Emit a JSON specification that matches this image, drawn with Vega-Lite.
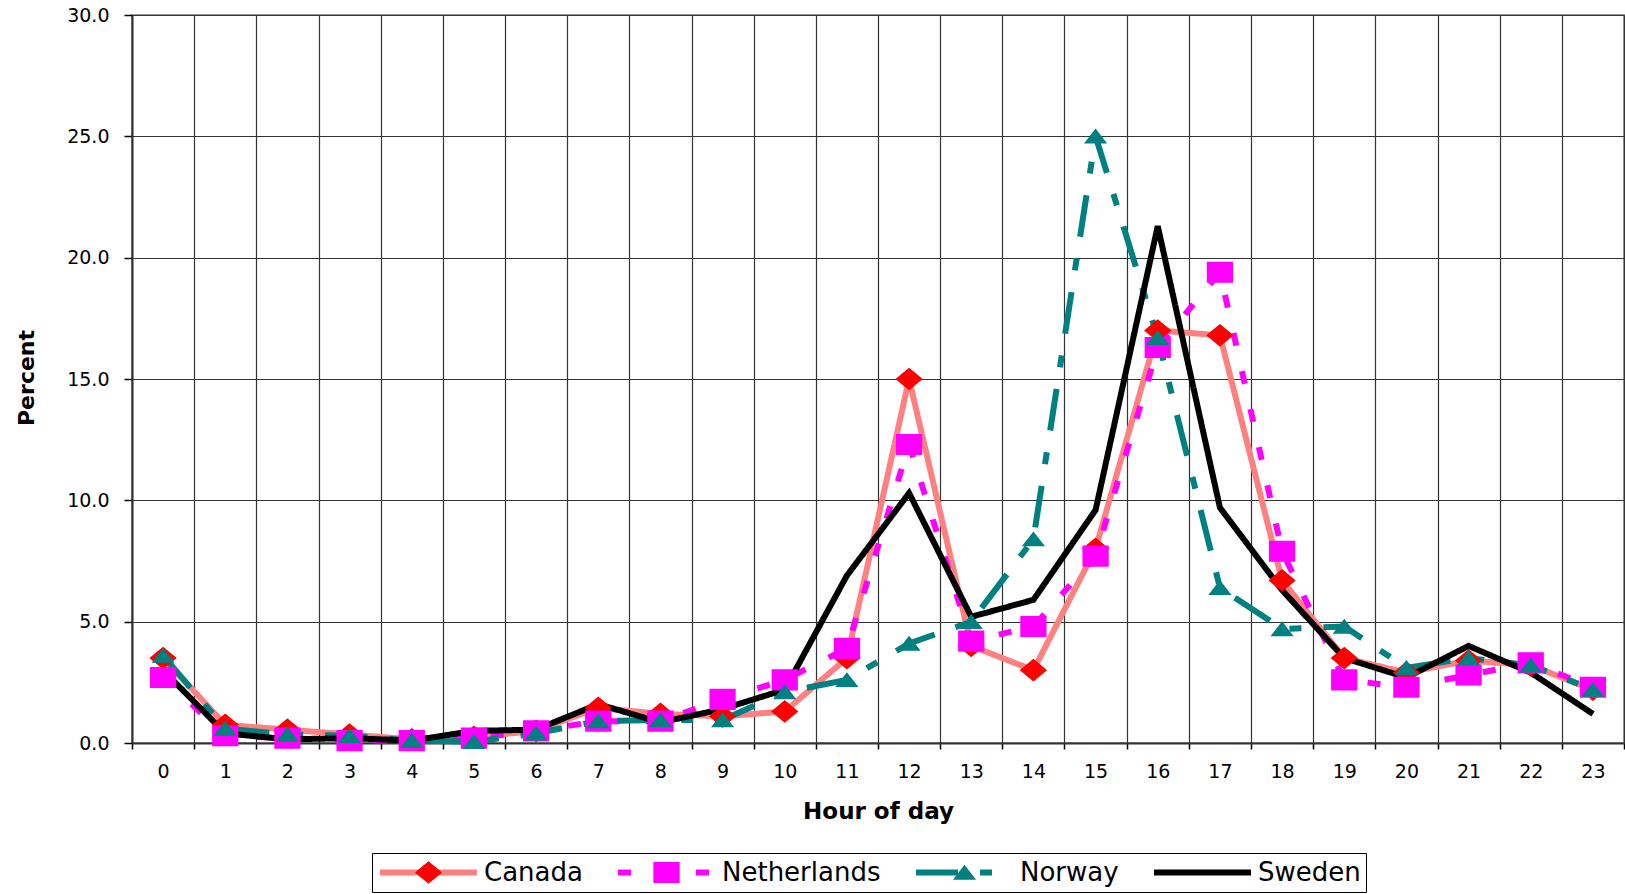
{
  "$schema": "https://vega.github.io/schema/vega-lite/v6.json",
  "width": 1492,
  "height": 728,
  "autosize": {"type": "none"},
  "padding": {"left": 132, "top": 15, "right": 1, "bottom": 151},
  "background": "white",
  "config": {
    "font": "DejaVu Sans",
    "view": {"stroke": "#999999", "strokeWidth": 2},
    "axis": {
      "labelFont": "DejaVu Sans",
      "labelFontSize": 19,
      "labelColor": "#000000",
      "tickColor": "#000000",
      "tickWidth": 1.5,
      "domainColor": "#333333",
      "domainWidth": 2,
      "gridColor": "#333333",
      "gridWidth": 1.2,
      "gridOpacity": 1,
      "titleFont": "DejaVu Sans",
      "titleFontWeight": "bold",
      "titleColor": "#000000",
      "labelFlush": false,
      "labelOverlap": false
    }
  },
  "data": {
    "values": [
      {"hour": 0, "country": "Canada", "value": 3.5},
      {"hour": 1, "country": "Canada", "value": 0.75},
      {"hour": 2, "country": "Canada", "value": 0.55},
      {"hour": 3, "country": "Canada", "value": 0.35},
      {"hour": 4, "country": "Canada", "value": 0.15},
      {"hour": 5, "country": "Canada", "value": 0.25},
      {"hour": 6, "country": "Canada", "value": 0.5},
      {"hour": 7, "country": "Canada", "value": 1.45},
      {"hour": 8, "country": "Canada", "value": 1.2},
      {"hour": 9, "country": "Canada", "value": 1.1},
      {"hour": 10, "country": "Canada", "value": 1.3},
      {"hour": 11, "country": "Canada", "value": 3.5},
      {"hour": 12, "country": "Canada", "value": 15.0},
      {"hour": 13, "country": "Canada", "value": 4.0},
      {"hour": 14, "country": "Canada", "value": 3.0},
      {"hour": 15, "country": "Canada", "value": 8.0},
      {"hour": 16, "country": "Canada", "value": 17.0},
      {"hour": 17, "country": "Canada", "value": 16.8},
      {"hour": 18, "country": "Canada", "value": 6.7},
      {"hour": 19, "country": "Canada", "value": 3.5},
      {"hour": 20, "country": "Canada", "value": 2.9},
      {"hour": 21, "country": "Canada", "value": 3.4},
      {"hour": 22, "country": "Canada", "value": 3.2},
      {"hour": 23, "country": "Canada", "value": 2.2},
      {"hour": 0, "country": "Netherlands", "value": 2.7},
      {"hour": 1, "country": "Netherlands", "value": 0.3},
      {"hour": 2, "country": "Netherlands", "value": 0.2},
      {"hour": 3, "country": "Netherlands", "value": 0.1},
      {"hour": 4, "country": "Netherlands", "value": 0.1},
      {"hour": 5, "country": "Netherlands", "value": 0.2},
      {"hour": 6, "country": "Netherlands", "value": 0.5},
      {"hour": 7, "country": "Netherlands", "value": 0.9},
      {"hour": 8, "country": "Netherlands", "value": 0.9},
      {"hour": 9, "country": "Netherlands", "value": 1.8},
      {"hour": 10, "country": "Netherlands", "value": 2.6},
      {"hour": 11, "country": "Netherlands", "value": 3.9},
      {"hour": 12, "country": "Netherlands", "value": 12.3},
      {"hour": 13, "country": "Netherlands", "value": 4.2},
      {"hour": 14, "country": "Netherlands", "value": 4.8},
      {"hour": 15, "country": "Netherlands", "value": 7.7},
      {"hour": 16, "country": "Netherlands", "value": 16.3},
      {"hour": 17, "country": "Netherlands", "value": 19.4},
      {"hour": 18, "country": "Netherlands", "value": 7.9},
      {"hour": 19, "country": "Netherlands", "value": 2.6},
      {"hour": 20, "country": "Netherlands", "value": 2.3},
      {"hour": 21, "country": "Netherlands", "value": 2.8},
      {"hour": 22, "country": "Netherlands", "value": 3.3},
      {"hour": 23, "country": "Netherlands", "value": 2.3},
      {"hour": 0, "country": "Norway", "value": 3.6},
      {"hour": 1, "country": "Norway", "value": 0.6},
      {"hour": 2, "country": "Norway", "value": 0.35},
      {"hour": 3, "country": "Norway", "value": 0.3},
      {"hour": 4, "country": "Norway", "value": 0.1},
      {"hour": 5, "country": "Norway", "value": 0.05},
      {"hour": 6, "country": "Norway", "value": 0.4},
      {"hour": 7, "country": "Norway", "value": 0.9},
      {"hour": 8, "country": "Norway", "value": 0.95},
      {"hour": 9, "country": "Norway", "value": 0.95},
      {"hour": 10, "country": "Norway", "value": 2.1},
      {"hour": 11, "country": "Norway", "value": 2.6},
      {"hour": 12, "country": "Norway", "value": 4.1},
      {"hour": 13, "country": "Norway", "value": 5.0},
      {"hour": 14, "country": "Norway", "value": 8.4},
      {"hour": 15, "country": "Norway", "value": 25.0},
      {"hour": 16, "country": "Norway", "value": 16.7},
      {"hour": 17, "country": "Norway", "value": 6.4},
      {"hour": 18, "country": "Norway", "value": 4.7},
      {"hour": 19, "country": "Norway", "value": 4.8},
      {"hour": 20, "country": "Norway", "value": 3.1},
      {"hour": 21, "country": "Norway", "value": 3.5},
      {"hour": 22, "country": "Norway", "value": 3.2},
      {"hour": 23, "country": "Norway", "value": 2.2},
      {"hour": 0, "country": "Sweden", "value": 3.0},
      {"hour": 1, "country": "Sweden", "value": 0.4},
      {"hour": 2, "country": "Sweden", "value": 0.15},
      {"hour": 3, "country": "Sweden", "value": 0.2},
      {"hour": 4, "country": "Sweden", "value": 0.1},
      {"hour": 5, "country": "Sweden", "value": 0.5},
      {"hour": 6, "country": "Sweden", "value": 0.55},
      {"hour": 7, "country": "Sweden", "value": 1.6},
      {"hour": 8, "country": "Sweden", "value": 0.85},
      {"hour": 9, "country": "Sweden", "value": 1.4},
      {"hour": 10, "country": "Sweden", "value": 2.2},
      {"hour": 11, "country": "Sweden", "value": 6.9},
      {"hour": 12, "country": "Sweden", "value": 10.3},
      {"hour": 13, "country": "Sweden", "value": 5.2},
      {"hour": 14, "country": "Sweden", "value": 5.9},
      {"hour": 15, "country": "Sweden", "value": 9.6},
      {"hour": 16, "country": "Sweden", "value": 21.3},
      {"hour": 17, "country": "Sweden", "value": 9.7},
      {"hour": 18, "country": "Sweden", "value": 6.3},
      {"hour": 19, "country": "Sweden", "value": 3.5},
      {"hour": 20, "country": "Sweden", "value": 2.7},
      {"hour": 21, "country": "Sweden", "value": 4.0},
      {"hour": 22, "country": "Sweden", "value": 2.9},
      {"hour": 23, "country": "Sweden", "value": 1.2}
    ]
  },
  "encoding": {
    "x": {
      "field": "hour",
      "type": "ordinal",
      "scale": {"paddingInner": 0, "paddingOuter": 0},
      "axis": {
        "title": "Hour of day",
        "grid": true,
        "tickBand": "extent",
        "tickSize": 6,
        "labelPadding": 13,
        "labelAngle": 0,
        "labelBaseline": "top",
        "titleFontSize": 23,
        "titleX": 746,
        "titleY": 75,
        "titleAlign": "center",
        "titleBaseline": "alphabetic"
      }
    },
    "y": {
      "field": "value",
      "type": "quantitative",
      "scale": {"domain": [0, 30], "nice": false, "zero": true},
      "axis": {
        "title": "Percent",
        "grid": true,
        "values": [0, 5, 10, 15, 20, 25, 30],
        "format": ".1f",
        "tickSize": 8,
        "labelPadding": 15,
        "titleFontSize": 22,
        "titleAngle": 270,
        "titleX": -99,
        "titleY": 362.5,
        "titleAlign": "center",
        "titleBaseline": "alphabetic"
      }
    }
  },
  "layer": [
    {
      "mark": {"type": "line", "strokeWidth": 6, "strokeJoin": "miter"},
      "encoding": {
        "color": {
          "field": "country",
          "type": "nominal",
          "scale": {
            "domain": ["Canada", "Netherlands", "Norway", "Sweden"],
            "range": ["#FF8080", "#FF00FF", "#008080", "#000000"]
          },
          "legend": {
            "title": null,
            "orient": "none",
            "legendX": 240,
            "legendY": 838,
            "direction": "horizontal",
            "columns": 4,
            "symbolType": "M-1,0H1",
            "symbolSize": 9409,
            "symbolStrokeWidth": 6,
            "symbolOpacity": 1,
            "labelFont": "DejaVu Sans",
            "labelFontSize": 26,
            "labelColor": "#000000",
            "labelOffset": 4,
            "labelLimit": 400,
            "columnPadding": 32,
            "clipHeight": 29,
            "padding": 5,
            "strokeColor": "#000000"
          }
        },
        "strokeDash": {
          "field": "country",
          "type": "nominal",
          "scale": {
            "domain": ["Canada", "Netherlands", "Norway", "Sweden"],
            "range": [[1, 0], [13, 26], [42, 22, 12, 22], [1, 0]]
          },
          "legend": {
            "title": null,
            "orient": "none",
            "legendX": 240,
            "legendY": 838,
            "direction": "horizontal",
            "columns": 4,
            "symbolType": "M-1,0H1",
            "symbolSize": 9409,
            "symbolStrokeWidth": 6,
            "symbolOpacity": 1,
            "labelFont": "DejaVu Sans",
            "labelFontSize": 26,
            "labelColor": "#000000",
            "labelOffset": 4,
            "labelLimit": 400,
            "columnPadding": 32,
            "clipHeight": 29,
            "padding": 5,
            "strokeColor": "#000000"
          }
        }
      }
    },
    {
      "transform": [{"filter": "datum.country !== 'Sweden'"}],
      "mark": {"type": "point", "filled": true, "size": 10609, "strokeWidth": 0, "opacity": 1},
      "encoding": {
        "fill": {
          "field": "country",
          "type": "nominal",
          "scale": {
            "domain": ["Canada", "Netherlands", "Norway"],
            "range": ["#FF0000", "#FF00FF", "#008080"]
          },
          "legend": {
            "title": null,
            "orient": "none",
            "legendX": 240,
            "legendY": 838,
            "direction": "horizontal",
            "columns": 3,
            "symbolSize": 10609,
            "symbolStrokeWidth": 0,
            "symbolOpacity": 1,
            "labelFont": "DejaVu Sans",
            "labelFontSize": 26,
            "labelOpacity": 0,
            "labelOffset": 4,
            "labelLimit": 400,
            "columnPadding": 32,
            "clipHeight": 29,
            "padding": 5
          }
        },
        "shape": {
          "field": "country",
          "type": "nominal",
          "scale": {
            "domain": ["Canada", "Netherlands", "Norway"],
            "range": [
              "M-1,0H1M0,-0.22L0.265,0L0,0.22L-0.265,0Z",
              "M-1,0H1M-0.255,-0.205H0.255V0.205H-0.255Z",
              "M-1,0H1M0,-0.15L0.225,0.14H-0.225Z"
            ]
          },
          "legend": {
            "title": null,
            "orient": "none",
            "legendX": 240,
            "legendY": 838,
            "direction": "horizontal",
            "columns": 3,
            "symbolSize": 10609,
            "symbolStrokeWidth": 0,
            "symbolOpacity": 1,
            "labelFont": "DejaVu Sans",
            "labelFontSize": 26,
            "labelOpacity": 0,
            "labelOffset": 4,
            "labelLimit": 400,
            "columnPadding": 32,
            "clipHeight": 29,
            "padding": 5
          }
        }
      }
    }
  ]
}
